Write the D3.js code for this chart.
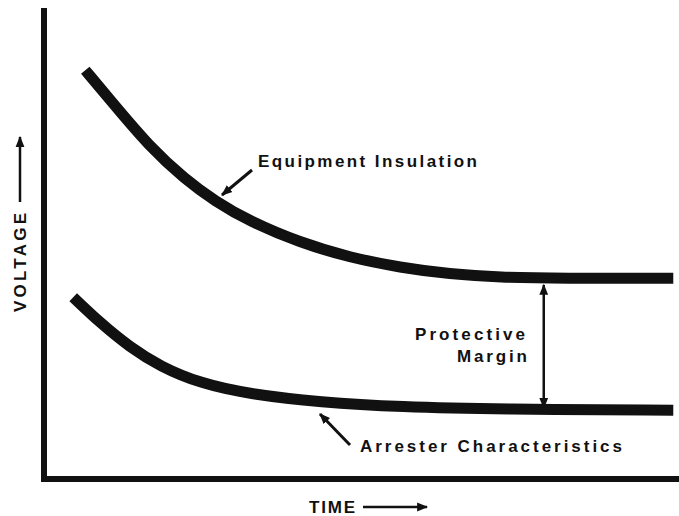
<!DOCTYPE html>
<html>
<head>
<meta charset="utf-8">
<script src="https://cdn.jsdelivr.net/npm/d3@7"></script>
<style>
  html, body { margin: 0; padding: 0; background: #fff; }
  text { font-family: "Liberation Sans", Arial, sans-serif; font-weight: bold; fill: #111; }
</style>
</head>
<body>
<svg id="chart" width="679" height="516"></svg>
<script>
// time / voltage in arbitrary units (0-100)
const insulationTime    = [6.5, 10.4, 16.7, 22.2, 26.9, 32.4, 40.3, 48.2, 56.1, 63.9, 71.8, 81.3, 99.1]
const insulationVoltage = [86.8, 80.5, 70.4, 63.7, 59.0, 54.7, 50.2, 47.0, 44.9, 43.5, 42.8, 42.6, 42.6]
const arresterTime      = [4.6, 8.8, 13.5, 18.3, 24.6, 32.4, 43.5, 56.1, 71.8, 99.1]
const arresterVoltage   = [38.6, 33.2, 28.0, 23.9, 20.3, 18.0, 16.3, 15.3, 14.8, 14.6]
const marginTime = 78.7
const marginRange = [41.2, 15.1]

const svg = d3.select('#chart')
const x = d3.scaleLinear().domain([0, 100]).range([44, 679])
const y = d3.scaleLinear().domain([0, 100]).range([479, 8])

svg.append('defs').append('marker')
  .attr('id', 'head')
  .attr('viewBox', '0 0 10 10')
  .attr('refX', 9).attr('refY', 5)
  .attr('markerWidth', 11).attr('markerHeight', 11)
  .attr('markerUnits', 'userSpaceOnUse')
  .attr('orient', 'auto-start-reverse')
  .append('path').attr('d', 'M0,1 L10,5 L0,9 Z').attr('fill', '#111')

// axes: just two heavy lines, no ticks
svg.append('line')
  .attr('x1', x(0)).attr('x2', x(0))
  .attr('y1', y(100)).attr('y2', y(0) + 3)
  .attr('stroke', '#111').attr('stroke-width', 6)
svg.append('line')
  .attr('x1', x(0) - 3).attr('x2', x(100))
  .attr('y1', y(0)).attr('y2', y(0))
  .attr('stroke', '#111').attr('stroke-width', 6)

const line = d3.line()
  .x(d => x(d[0]))
  .y(d => y(d[1]))
  .curve(d3.curveBasis)

const curves = [
  d3.zip(insulationTime, insulationVoltage),
  d3.zip(arresterTime, arresterVoltage),
]
svg.selectAll('.curve')
  .data(curves)
  .enter().append('path')
  .attr('class', 'curve')
  .attr('d', line)
  .attr('fill', 'none')
  .attr('stroke', '#111')
  .attr('stroke-width', 11)
  .attr('stroke-linecap', 'butt')

// protective margin double arrow
svg.append('line')
  .attr('x1', x(marginTime)).attr('x2', x(marginTime))
  .attr('y1', y(marginRange[0])).attr('y2', y(marginRange[1]))
  .attr('stroke', '#111').attr('stroke-width', 2.5)
  .attr('marker-start', 'url(#head)')
  .attr('marker-end', 'url(#head)')

// pointer arrows
const pointers = [
  { from: [252, 170], to: [222, 195] },
  { from: [350, 445], to: [320, 414] },
]
svg.selectAll('.pointer')
  .data(pointers)
  .enter().append('line')
  .attr('class', 'pointer')
  .attr('x1', d => d.from[0]).attr('y1', d => d.from[1])
  .attr('x2', d => d.to[0]).attr('y2', d => d.to[1])
  .attr('stroke', '#111').attr('stroke-width', 3)
  .attr('marker-end', 'url(#head)')

const labels = [
  { text: 'Equipment Insulation', x: 258, y: 167, w: 219 },
  { text: 'Arrester Characteristics', x: 360, y: 452, w: 262 },
  { text: 'Protective', x: 415, y: 340, w: 110 },
  { text: 'Margin', x: 457, y: 362, w: 70 },
  { text: 'TIME', x: 309, y: 513, w: 46 },
]
svg.selectAll('.label')
  .data(labels)
  .enter().append('text')
  .attr('class', 'label')
  .attr('x', d => d.x).attr('y', d => d.y)
  .attr('font-size', 17)
  .attr('textLength', d => d.w)
  .attr('lengthAdjust', 'spacing')
  .text(d => d.text)

// axis direction arrows
svg.append('line')
  .attr('x1', 363).attr('x2', 427).attr('y1', 507).attr('y2', 507)
  .attr('stroke', '#111').attr('stroke-width', 2.5)
  .attr('marker-end', 'url(#head)')

svg.append('text')
  .attr('transform', 'translate(26,312) rotate(-90)')
  .attr('font-size', 17)
  .attr('textLength', 99)
  .attr('lengthAdjust', 'spacing')
  .text('VOLTAGE')
svg.append('line')
  .attr('x1', 20).attr('x2', 20).attr('y1', 202).attr('y2', 137)
  .attr('stroke', '#111').attr('stroke-width', 2.5)
  .attr('marker-end', 'url(#head)')
</script>
</body>
</html>
